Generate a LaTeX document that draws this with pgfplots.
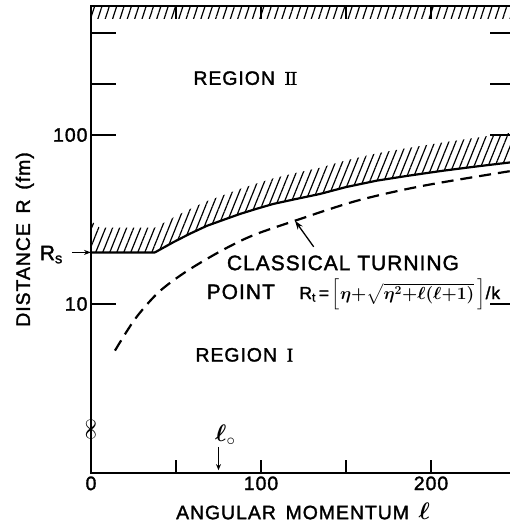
\RequirePackage{fix-cm}
\documentclass[border=0pt]{standalone}
\usepackage{amsmath}
\usepackage{fontspec}
\setmainfont{Liberation Sans}[LetterSpace=5,FakeBold=1.6]
\newfontfamily\serif{Liberation Serif}[FakeBold=1.6]
\usepackage{pgfplots}
\usepackage{pgfplotstable}
\pgfplotsset{compat=1.18}
\usepgfplotslibrary{fillbetween}
\usetikzlibrary{arrows.meta,patterns.meta}

\newcommand\fs{\fontsize{19.5}{23}\selectfont}
\newcommand\fb{\fontsize{21}{25}\selectfont}

% lower edge of region II (solid) and top of its hatching
\pgfplotstableread{
l R
0 20.2
37.6 20.2
48.4 23.2
58 26.0
68.1 29.0
78 31.5
87.6 34.1
97 36.5
107.2 39.1
120 41.7
134.7 44.8
150 49.2
168.1 53.7
187 57.5
207.2 61.5
227 65.2
249.5 69.4
}\edge
\pgfplotstableread{
l R
0 31
5 28.3
37.6 28.3
48.4 32.5
58 36.4
68.1 40.6
78 44.1
87.6 48.0
97 51.5
107.2 55.4
120 59.5
134.7 64
150 70.8
168.1 77.9
187 84.0
207.2 90.4
227 96.5
249.5 104
}\edgehatch
% classical turning point R_t
\pgfplotstableread{
l R
14.1 5.3
25.9 8.15
39.6 11.7
55.3 15.4
74.9 20.2
94.5 25.3
120 31.1
156.3 40.8
195.5 50.1
249.5 61.8
}\turning

\begin{document}
\begin{tikzpicture}
\begin{axis}[
  scale only axis,
  width=424.15bp, height=467bp,
  xmin=0, xmax=249.5,
  ymode=log, ymin=1, ymax=580,
  clip=false,
  axis line style={line width=1.8bp},
  every tick/.style={black, line width=1.8bp},
  tick align=inside,
  major tick length=13bp,
  minor tick length=17bp,
  xtick={0,50,100,150,200},
  xticklabels={0,,100,,200},
  ytick=\empty,
  minor ytick={2,4,6,8,40,60,80},
  extra y ticks={10,100,200,400},
  extra y tick labels={10,100,,},
  extra y tick style={major tick length=25bp},
  tick label style={font=\fs},
  /pgf/number format/assume math mode=true,
  label style={font=\fs},
  xlabel={ANGULAR\enspace MOMENTUM\enspace {\fontsize{24}{24}\selectfont$\boldsymbol{\ell}$}},
  ylabel={DISTANCE\enspace R\enspace(fm)},
  xlabel style={at={(axis description cs:0.5,-0.0814)}, anchor=center},
  ylabel style={at={(axis description cs:-0.156,0.5)}, anchor=center},
]
\coordinate (sw) at (rel axis cs:0,0);

% hatching under the top edge
\addplot[draw=none, name path=toplo] coordinates {(0,486) (249.5,486)};
\addplot[draw=none, name path=tophi] coordinates {(0,580) (249.5,580)};
\addplot[pattern={Lines[angle=72,distance=7bp,line width=1.2bp]}, draw=none]
  fill between[of=toplo and tophi];

% hatching above the region II edge
\addplot[draw=none, name path=hi] table[x=l,y=R] {\edgehatch};
\addplot[line width=2.2bp, black, line join=round, name path=lo] table[x=l,y=R] {\edge};
\addplot[pattern={Lines[angle=68,distance=6.5bp,line width=1.2bp]}, draw=none]
  fill between[of=lo and hi];

\addplot[line width=2.2bp, black, smooth, dash pattern=on 12bp off 7bp]
  table[x=l,y=R] {\turning};

\node[anchor=west,font=\fs] at (axis cs:58.2,217) {REGION\enspace{\serif I\kern-.03em I}};
\node[anchor=west,font=\fs] at (axis cs:59.4,5.0) {REGION\enspace{\serif I}};
\node[font=\fb] at (axis cs:148.2,17.5) {CLASSICAL TURNING};
\node[anchor=base west,font=\fb] at (axis cs:66,10.7) {POINT};
\node[anchor=base west,font=\fontsize{17.5}{21}\selectfont,inner sep=0pt] at (axis cs:122.5,10.7)
  {R$_{\mathrm{t}}$\,=\,$\boldsymbol{\Big[\eta{+}\sqrt{\eta^2{+}\ell(\ell{+}1)}\,\Big]}$/k};
\draw[-{Stealth[length=9bp,width=6bp]}, line width=1.3bp]
  (axis cs:131,21.8) -- (axis cs:120,31.1);

\node[font=\fontsize{24}{24}\selectfont] at (axis cs:79,1.68) {$\boldsymbol{\ell}_{\circ}$};
\draw[-{Stealth[length=6bp,width=5bp]}, line width=1.3bp]
  (axis cs:75,1.43) -- (axis cs:75,1.04);

\node[anchor=east,font=\fb] at (axis cs:-14.5,19.6) {R$_{\mathrm{s}}$};
\draw[-{Stealth[length=7bp,width=5bp]}, line width=1.3bp]
  (axis cs:-11.2,20.2) -- (axis cs:0,20.2);

\node[rotate=90, inner sep=0pt, font=\fontsize{22}{22}\selectfont] at (axis cs:0,1.8) {$\infty$};
\end{axis}
\pgfresetboundingbox
\useasboundingbox ([xshift=-91bp,yshift=-51bp]sw) rectangle ([xshift=419bp,yshift=473bp]sw);
\end{tikzpicture}
\end{document}
